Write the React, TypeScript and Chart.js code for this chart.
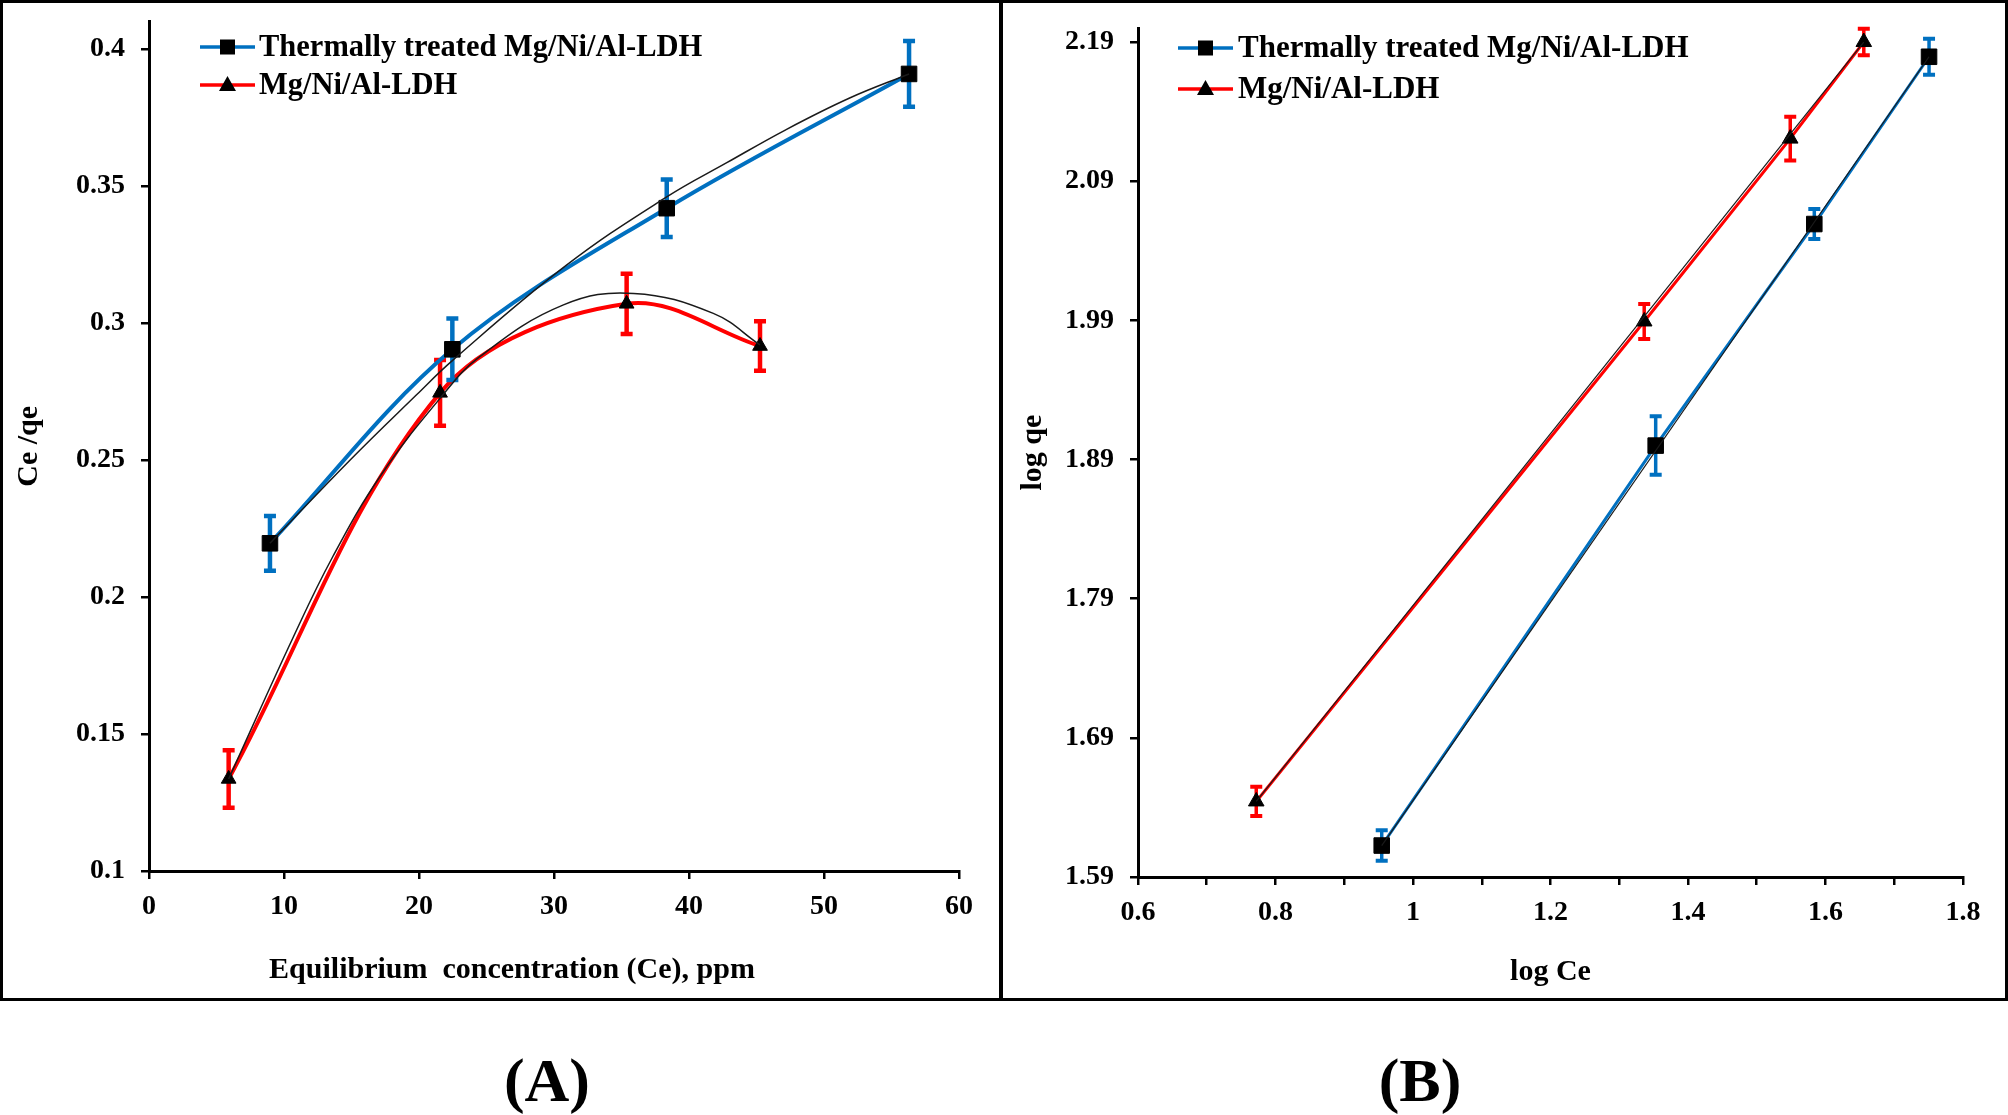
import React, { useEffect, useRef } from 'react';
import { Chart, registerables } from 'chart.js';

Chart.register(...registerables);

const FONT = "'Liberation Serif', 'Times New Roman', serif";
const BLUE = '#0070C0';
const RED = '#FF0000';
const TREND = '#1a1a1a';

const seriesNames = ['Thermally treated Mg/Ni/Al-LDH', 'Mg/Ni/Al-LDH'];

// ---------- Panel A : Ce/qe vs Ce ----------
const treatedCeA = [8.96, 22.47, 38.35, 56.3];
const treatedRatioA = [0.2196, 0.2904, 0.3419, 0.3909];
const treatedErrA = [0.01, 0.0112, 0.0105, 0.012];

const untreatedCeA = [5.9, 21.56, 35.38, 45.26];
const untreatedRatioA = [0.1336, 0.2745, 0.307, 0.2916];
const untreatedErrA = [0.0105, 0.012, 0.011, 0.009];

// thin black trend curves
const treatedTrendCeA = [8.96, 14.9, 19.8, 22.45, 30.9, 38.35, 42.8, 47.2, 51.9, 56.3];
const treatedTrendA = [0.2196, 0.25, 0.2737, 0.2862, 0.321, 0.346, 0.3585, 0.3706, 0.3821, 0.3909];
const untreatedTrendCeA = [5.9, 10.7, 13.6, 17.1, 21.56, 24.5, 30.7, 35.9, 41.8, 45.26];
const untreatedTrendA = [0.1336, 0.1855, 0.2146, 0.2439, 0.2725, 0.2877, 0.3066, 0.3108, 0.3035, 0.292];

const xTicksA = [0, 10, 20, 30, 40, 50, 60];
const xTickLabelsA = ['0', '10', '20', '30', '40', '50', '60'];
const yTicksA = [0.1, 0.15, 0.2, 0.25, 0.3, 0.35, 0.4];
const yTickLabelsA = ['0.1', '0.15', '0.2', '0.25', '0.3', '0.35', '0.4'];
const xTitleA = 'Equilibrium  concentration (Ce), ppm';
const yTitleA = 'Ce /qe';

// ---------- Panel B : log qe vs log Ce ----------
const treatedLogCeB = [0.9545, 1.353, 1.5837, 1.7506];
const treatedLogQeB = [1.6126, 1.9, 2.0592, 2.1794];
const treatedErrB = [0.011, 0.021, 0.0108, 0.013];

const untreatedLogCeB = [0.772, 1.3363, 1.5487, 1.6557];
const untreatedLogQeB = [1.6443, 1.9892, 2.1206, 2.19];
const untreatedErrB = [0.0105, 0.0126, 0.0157, 0.0095];

const treatedTrendCeB = [0.9545, 1.7506];
const treatedTrendB = [1.6126, 2.1794];
const untreatedTrendCeB = [0.772, 1.6557];
const untreatedTrendB = [1.6443, 2.19];

const xTicksB = [0.6, 0.7, 0.8, 0.9, 1.0, 1.1, 1.2, 1.3, 1.4, 1.5, 1.6, 1.7, 1.8];
const xTickLabelsB = ['0.6', '', '0.8', '', '1', '', '1.2', '', '1.4', '', '1.6', '', '1.8'];
const yTicksB = [1.59, 1.69, 1.79, 1.89, 1.99, 2.09, 2.19];
const yTickLabelsB = ['1.59', '1.69', '1.79', '1.89', '1.99', '2.09', '2.19'];
const xTitleB = 'log Ce';
const yTitleB = 'log qe';

const pts = (xs: number[], ys: number[]) => xs.map((x, i) => ({ x, y: ys[i] }));

const errorBarPlugin = {
  id: 'errorBars',
  beforeDatasetDraw(chart: any, args: any) {
    const ds: any = chart.data.datasets[args.index];
    if (!ds.errors) return;
    const ctx = chart.ctx;
    const yScale = chart.scales.y;
    ctx.save();
    ctx.strokeStyle = ds.errorColor;
    ctx.lineCap = 'butt';
    args.meta.data.forEach((el: any, j: number) => {
      const v = ds.data[j].y;
      const e = ds.errors[j];
      const top = yScale.getPixelForValue(v + e);
      const bot = yScale.getPixelForValue(v - e);
      const x = el.x;
      const hw = ds.capWidth / 2;
      ctx.lineWidth = ds.errorWidth;
      ctx.beginPath();
      ctx.moveTo(x, top);
      ctx.lineTo(x, bot);
      ctx.stroke();
      ctx.lineWidth = ds.capThickness;
      ctx.beginPath();
      ctx.moveTo(x - hw, top);
      ctx.lineTo(x + hw, top);
      ctx.moveTo(x - hw, bot);
      ctx.lineTo(x + hw, bot);
      ctx.stroke();
    });
    ctx.restore();
  },
};

function makeLegendPlugin(lx1: number, lx2: number, tx: number, ys: number[], fontSize: number) {
  const items = [
    { color: BLUE, style: 'rect', label: seriesNames[0] },
    { color: RED, style: 'triangle', label: seriesNames[1] },
  ];
  return {
    id: 'customLegend',
    afterDraw(chart: any) {
      const ctx = chart.ctx;
      ctx.save();
      items.forEach((it, i) => {
        const y = ys[i];
        ctx.strokeStyle = it.color;
        ctx.lineWidth = 3.5;
        ctx.beginPath();
        ctx.moveTo(lx1, y);
        ctx.lineTo(lx2, y);
        ctx.stroke();
        const cx = (lx1 + lx2) / 2;
        ctx.fillStyle = '#000';
        if (it.style === 'rect') {
          ctx.fillRect(cx - 7.5, y - 7.5, 15, 15);
        } else {
          ctx.beginPath();
          ctx.moveTo(cx, y - 9);
          ctx.lineTo(cx + 8.5, y + 6);
          ctx.lineTo(cx - 8.5, y + 6);
          ctx.closePath();
          ctx.fill();
        }
        ctx.fillStyle = '#000';
        ctx.font = `bold ${fontSize}px ${FONT}`;
        ctx.textAlign = 'left';
        ctx.textBaseline = 'middle';
        ctx.fillText(it.label, tx, y + 1);
      });
      ctx.restore();
    },
  };
}

const xTitlePluginA = {
  id: 'xTitleA',
  afterDraw(chart: any) {
    const ctx = chart.ctx;
    const area = chart.chartArea;
    ctx.save();
    ctx.fillStyle = '#000';
    ctx.font = `bold 30px ${FONT}`;
    ctx.textAlign = 'center';
    ctx.textBaseline = 'middle';
    ctx.fillText(xTitleA, area.left + 363, area.bottom + 99);
    ctx.restore();
  },
};

const tickFont = { family: FONT, size: 28, weight: 'bold' as const };
const titleFont = { family: FONT, size: 30, weight: 'bold' as const };
const gridOpts = {
  display: true,
  drawOnChartArea: false,
  drawTicks: true,
  tickLength: 8,
  tickWidth: 2.5,
  tickColor: '#000',
  color: '#000',
  lineWidth: 2.5,
};
const borderOpts = { display: true, color: '#000', width: 3 };

function fixSize(dim: 'width' | 'height', size: number) {
  return (ax: any) => {
    ax[dim] = size;
    ax.paddingTop = 0;
    ax.paddingBottom = 0;
    ax.paddingLeft = 0;
    ax.paddingRight = 0;
  };
}

function seriesDataset(label: string, data: any[], color: string, style: string, radius: number, errors: number[], lineWidth: number, tension: number, errW: number, capW: number, capT: number) {
  return {
    label,
    data,
    borderColor: color,
    backgroundColor: color,
    borderWidth: lineWidth,
    tension,
    pointStyle: style,
    pointRadius: radius,
    pointBackgroundColor: '#000',
    pointBorderColor: '#000',
    pointBorderWidth: 1,
    errors,
    errorColor: color,
    errorWidth: errW,
    capWidth: capW,
    capThickness: capT,
    order: 2,
    clip: false,
  };
}

function trendDataset(label: string, data: any[], width: number, tension: number) {
  return {
    label,
    data,
    borderColor: TREND,
    borderWidth: width,
    tension,
    pointRadius: 0,
    order: 0,
    clip: false,
  };
}

function configA(): any {
  return {
    type: 'line',
    data: {
      datasets: [
        seriesDataset(seriesNames[0], pts(treatedCeA, treatedRatioA), BLUE, 'rect', 11, treatedErrA, 4, 0.35, 4.5, 12, 4.5),
        seriesDataset(seriesNames[1], pts(untreatedCeA, untreatedRatioA), RED, 'triangle', 8.5, untreatedErrA, 4, 0.35, 4.5, 12, 4.5),
        trendDataset('Poly. (' + seriesNames[0] + ')', pts(treatedTrendCeA, treatedTrendA), 1.5, 0.4),
        trendDataset('Poly. (' + seriesNames[1] + ')', pts(untreatedTrendCeA, untreatedTrendA), 1.5, 0.4),
      ],
    },
    options: {
      animation: false,
      responsive: false,
      maintainAspectRatio: false,
      devicePixelRatio: 1,
      layout: { padding: { left: 0, top: 21.6, right: 41, bottom: 0 } },
      plugins: { legend: { display: false }, tooltip: { enabled: false } },
      scales: {
        x: {
          type: 'linear',
          min: 0,
          max: 60,
          bounds: 'data',
          afterBuildTicks: (ax: any) => { ax.ticks = xTicksA.map((v) => ({ value: v })); },
          afterFit: fixSize('height', 129),
          ticks: { autoSkip: false, maxRotation: 0, padding: 11, color: '#000', font: tickFont, callback: (_v: any, i: number) => xTickLabelsA[i] },
          grid: gridOpts,
          border: borderOpts,
          title: { display: false },
        },
        y: {
          type: 'linear',
          min: 0.1,
          max: 0.41,
          bounds: 'data',
          afterBuildTicks: (ax: any) => { ax.ticks = yTicksA.map((v) => ({ value: v })); },
          afterFit: fixSize('width', 149),
          ticks: { autoSkip: false, padding: 16, color: '#000', font: tickFont, callback: (_v: any, i: number) => yTickLabelsA[i] },
          grid: gridOpts,
          border: borderOpts,
          title: { display: true, text: yTitleA, color: '#000', font: titleFont, padding: { top: 11, bottom: 0 } },
        },
      },
    },
    plugins: [errorBarPlugin, makeLegendPlugin(200, 255, 259, [47, 85], 30.5), xTitlePluginA],
  };
}

function configB(): any {
  return {
    type: 'line',
    data: {
      datasets: [
        seriesDataset(seriesNames[0], pts(treatedLogCeB, treatedLogQeB), BLUE, 'rect', 11, treatedErrB, 3, 0, 3.5, 12, 4),
        seriesDataset(seriesNames[1], pts(untreatedLogCeB, untreatedLogQeB), RED, 'triangle', 9, untreatedErrB, 3, 0, 3.5, 12, 4),
        trendDataset('Linear (' + seriesNames[0] + ')', pts(treatedTrendCeB, treatedTrendB), 1.2, 0),
        trendDataset('Linear (' + seriesNames[1] + ')', pts(untreatedTrendCeB, untreatedTrendB), 1.2, 0),
      ],
    },
    options: {
      animation: false,
      responsive: false,
      maintainAspectRatio: false,
      devicePixelRatio: 1,
      layout: { padding: { left: 0, top: 28.1, right: 45, bottom: 0 } },
      plugins: { legend: { display: false }, tooltip: { enabled: false } },
      scales: {
        x: {
          type: 'linear',
          min: 0.6,
          max: 1.8,
          bounds: 'data',
          afterBuildTicks: (ax: any) => { ax.ticks = xTicksB.map((v) => ({ value: v })); },
          afterFit: fixSize('height', 123),
          ticks: { autoSkip: false, maxRotation: 0, padding: 11, color: '#000', font: tickFont, callback: (_v: any, i: number) => xTickLabelsB[i] },
          grid: gridOpts,
          border: borderOpts,
          title: { display: true, text: xTitleB, color: '#000', font: titleFont, padding: { top: 0, bottom: 10 } },
        },
        y: {
          type: 'linear',
          min: 1.59,
          max: 2.2,
          bounds: 'data',
          afterBuildTicks: (ax: any) => { ax.ticks = yTicksB.map((v) => ({ value: v })); },
          afterFit: fixSize('width', 138),
          ticks: { autoSkip: false, padding: 16, color: '#000', font: tickFont, callback: (_v: any, i: number) => yTickLabelsB[i] },
          grid: gridOpts,
          border: borderOpts,
          title: { display: true, text: yTitleB, color: '#000', font: titleFont, padding: { top: 15, bottom: 0 } },
        },
      },
    },
    plugins: [errorBarPlugin, makeLegendPlugin(178, 233, 238, [48, 89], 31)],
  };
}

function ChartPanel({ left, width, height, makeConfig }: { left: number; width: number; height: number; makeConfig: () => any }) {
  const ref = useRef<HTMLCanvasElement | null>(null);
  useEffect(() => {
    if (!ref.current) return;
    const chart = new Chart(ref.current, makeConfig());
    return () => chart.destroy();
  }, []);
  return (
    <canvas
      ref={ref}
      width={width}
      height={height}
      style={{ position: 'absolute', left, top: 0, width, height, display: 'block' }}
    />
  );
}

const panelLabel = (cx: number): React.CSSProperties => ({
  position: 'absolute',
  left: cx - 150,
  width: 300,
  top: 1049,
  textAlign: 'center',
  fontFamily: FONT,
  fontWeight: 'bold',
  fontSize: 62,
  lineHeight: '62px',
  color: '#000',
});

export default function App() {
  return (
    <div style={{ position: 'absolute', left: 0, top: 0, width: 2008, height: 1115, background: '#fff', overflow: 'hidden' }}>
      <div style={{ position: 'absolute', left: 0, top: 0, width: 1002, height: 1001, border: '3px solid #000', boxSizing: 'border-box' }} />
      <div style={{ position: 'absolute', left: 1000, top: 0, width: 1008, height: 1001, border: '3px solid #000', boxSizing: 'border-box' }} />
      <ChartPanel left={0} width={1000} height={1000} makeConfig={configA} />
      <ChartPanel left={1000} width={1008} height={1000} makeConfig={configB} />
      <div style={panelLabel(547)}>(A)</div>
      <div style={panelLabel(1420)}>(B)</div>
    </div>
  );
}
